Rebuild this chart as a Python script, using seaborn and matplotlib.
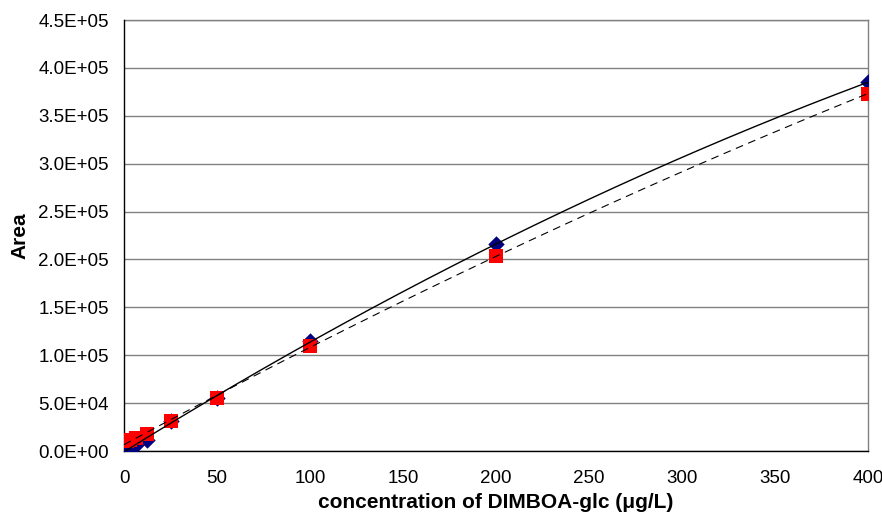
import numpy as np
import pandas as pd
import seaborn as sns
import matplotlib
matplotlib.use("Agg")
import matplotlib.pyplot as plt

# ---- data ----
conc = [1.5625, 3.125, 6.25, 12.5, 25, 50, 100, 200, 400]
area_blue = [2000, 3500, 6500, 12000, 31500, 55000, 115000, 216000, 385000]
area_red = [10500, 11500, 13500, 18000, 31500, 55000, 109500, 204000, 373000]
x_ticks = [0, 50, 100, 150, 200, 250, 300, 350, 400]
y_ticks = [0, 50000, 100000, 150000, 200000, 250000, 300000, 350000, 400000, 450000]
y_tick_labels = ["0.0E+00", "5.0E+04", "1.0E+05", "1.5E+05", "2.0E+05",
                 "2.5E+05", "3.0E+05", "3.5E+05", "4.0E+05", "4.5E+05"]

sns.set_theme(style="white")
plt.rcParams["font.family"] = ["Liberation Sans", "DejaVu Sans"]

fig = plt.figure(figsize=(8.82, 5.16), dpi=100)
ax = fig.add_axes([124 / 882, 1 - 451 / 516, (868 - 124) / 882, (451 - 20) / 516])

df_b = pd.DataFrame({"x": conc, "y": area_blue})
df_r = pd.DataFrame({"x": conc, "y": area_red})

# polynomial (2nd order) trendlines from the data
xs = np.linspace(0, 400, 300)
cb = np.polyfit(conc, area_blue, 2)
cr = np.polyfit(conc, area_red, 2)
fit_b = pd.DataFrame({"x": xs, "y": np.polyval(cb, xs)})
fit_r = pd.DataFrame({"x": xs, "y": np.polyval(cr, xs)})

sns.scatterplot(data=df_b, x="x", y="y", ax=ax, marker="D", s=70,
                color="#000080", edgecolor="#000080", linewidth=0, zorder=3)
sns.scatterplot(data=df_r, x="x", y="y", ax=ax, marker="s", s=92,
                color="#FF0000", edgecolor="#FF0000", linewidth=0, zorder=4)
sns.lineplot(data=fit_b, x="x", y="y", ax=ax, color="black", linewidth=1.0, zorder=5)
sns.lineplot(data=fit_r, x="x", y="y", ax=ax, color="black", linewidth=0.8,
             linestyle=(0, (7, 5)), zorder=5)

ax.set_xlim(0, 400)
ax.set_ylim(0, 450000)
ax.set_xticks(x_ticks)
ax.set_xticklabels([str(t) for t in x_ticks])
ax.set_yticks(y_ticks)
ax.set_yticklabels(y_tick_labels)
ax.tick_params(axis="both", direction="out", length=5, width=1, color="black",
               labelsize=13.5, labelcolor="black")
ax.tick_params(axis="x", pad=9)
ax.tick_params(axis="y", pad=6)
ax.grid(axis="y", color="#808080", linewidth=1.0)
ax.set_axisbelow(True)

for side in ["left", "bottom"]:
    ax.spines[side].set_color("black")
    ax.spines[side].set_linewidth(1.0)
for side in ["top", "right"]:
    ax.spines[side].set_color("#808080")
    ax.spines[side].set_linewidth(1.0)
    ax.spines[side].set_zorder(0)

ax.set_xlabel("concentration of DIMBOA-glc (μg/L)", fontsize=15, fontweight="bold",
              labelpad=4, color="black")
ax.set_ylabel("Area", fontsize=15, fontweight="bold", labelpad=6, color="black")

fig.savefig("out.png", dpi=100, facecolor="white")
